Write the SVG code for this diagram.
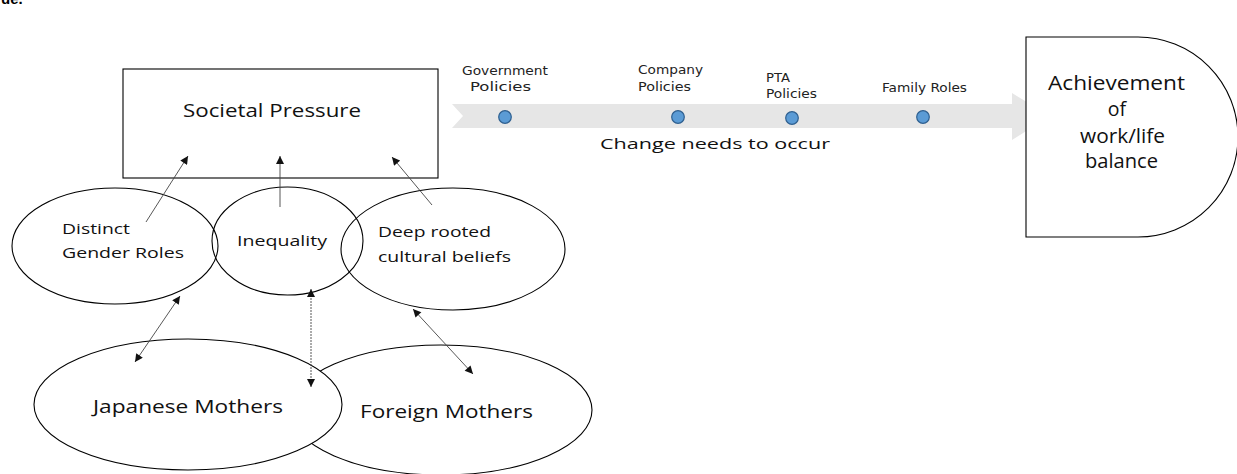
<svg xmlns="http://www.w3.org/2000/svg" width="1237" height="474" viewBox="0 0 1237 474">
<style>
.shape{fill:none;stroke:#000;stroke-width:1.1}
.wfill{fill:#fff;stroke:#000;stroke-width:1.1}
.t{font-family:"Open Sans","Liberation Sans",sans-serif;fill:#111}
.lab{font-family:"DejaVu Sans","Liberation Sans",sans-serif;font-size:12px;fill:#222}
.conn{stroke:#444;stroke-width:0.9;fill:none}
.dot{fill:#5b9bd5;stroke:#2e5f8f;stroke-width:1.2}
</style>
<defs>
<marker id="ah" viewBox="0 0 10 10" refX="10" refY="5" markerWidth="9" markerHeight="8" markerUnits="userSpaceOnUse" orient="auto-start-reverse">
<path d="M0,0 L10,5 L0,10 Z" fill="#111"/>
</marker>
</defs>
<rect width="1237" height="474" fill="#fff"/>
<text x="1" y="4" font-family="Liberation Sans, sans-serif" font-weight="bold" font-size="15" fill="#000">ue.</text>

<g id="timeline">
<polygon points="452,104 1012,104 1012,93 1050,116 1012,140 1012,128 452,128 463,116" fill="#e6e6e6"/>
<circle class="dot" cx="505" cy="117" r="6.3"/>
<circle class="dot" cx="678" cy="117" r="6.3"/>
<circle class="dot" cx="792" cy="118" r="6.3"/>
<circle class="dot" cx="923" cy="117" r="6.3"/>
<text class="lab" x="462" y="75" textLength="86" lengthAdjust="spacingAndGlyphs">Government</text>
<text class="lab" x="470" y="91" textLength="61" lengthAdjust="spacingAndGlyphs">Policies</text>
<text class="lab" x="638" y="74" textLength="65" lengthAdjust="spacingAndGlyphs">Company</text>
<text class="lab" x="638" y="91" textLength="53" lengthAdjust="spacingAndGlyphs">Policies</text>
<text class="lab" x="766" y="82" textLength="24" lengthAdjust="spacingAndGlyphs">PTA</text>
<text class="lab" x="766" y="98" textLength="51" lengthAdjust="spacingAndGlyphs">Policies</text>
<text class="lab" x="882" y="92" textLength="85" lengthAdjust="spacingAndGlyphs">Family Roles</text>
<text class="t" x="600" y="149" font-size="15" textLength="230" lengthAdjust="spacingAndGlyphs">Change needs to occur</text>
</g>

<g id="achievement">
<path class="wfill" d="M1026,37 H1138 A100,100 0 0 1 1138,237 H1026 Z"/>
<text class="t" x="1048" y="90" font-size="19.5" textLength="137" lengthAdjust="spacingAndGlyphs">Achievement</text>
<text class="t" x="1117" y="116" font-size="19.5" text-anchor="middle">of</text>
<text class="t" x="1080" y="143" font-size="19.5" textLength="85" lengthAdjust="spacingAndGlyphs">work/life</text>
<text class="t" x="1085" y="168" font-size="19.5" textLength="73" lengthAdjust="spacingAndGlyphs">balance</text>
</g>

<g id="societal-pressure">
<rect class="shape" x="123" y="69" width="315" height="109"/>
<text class="t" x="183" y="117" font-size="18.5" textLength="178" lengthAdjust="spacingAndGlyphs">Societal Pressure</text>
</g>

<g id="distinct-gender-roles">
<ellipse class="shape" cx="115" cy="246" rx="103" ry="58"/>
<text class="t" x="62" y="234" font-size="15" textLength="68" lengthAdjust="spacingAndGlyphs">Distinct</text>
<text class="t" x="62" y="258" font-size="15" textLength="122" lengthAdjust="spacingAndGlyphs">Gender Roles</text>
</g>

<g id="inequality">
<ellipse class="shape" cx="287.5" cy="241" rx="75.5" ry="54"/>
<text class="t" x="237" y="246" font-size="15" textLength="90" lengthAdjust="spacingAndGlyphs">Inequality</text>
</g>

<g id="deep-rooted">
<ellipse class="shape" cx="453" cy="249" rx="112" ry="61"/>
<text class="t" x="378" y="237" font-size="15" textLength="113" lengthAdjust="spacingAndGlyphs">Deep rooted</text>
<text class="t" x="378" y="262" font-size="15" textLength="133" lengthAdjust="spacingAndGlyphs">cultural beliefs</text>
</g>

<g id="foreign-mothers">
<ellipse class="wfill" cx="441" cy="410" rx="151" ry="65"/>
<text class="t" x="360" y="418" font-size="18" textLength="173" lengthAdjust="spacingAndGlyphs">Foreign Mothers</text>
</g>

<g id="japanese-mothers">
<ellipse class="wfill" cx="188" cy="404.5" rx="154" ry="65.5"/>
<text class="t" x="93" y="413" font-size="18" textLength="190" lengthAdjust="spacingAndGlyphs">Japanese Mothers</text>
</g>

<g id="connectors">
<line class="conn" x1="146" y1="222" x2="188" y2="156" marker-end="url(#ah)"/>
<line class="conn" x1="280" y1="207" x2="280" y2="156" marker-end="url(#ah)"/>
<line class="conn" x1="432" y1="205" x2="392" y2="157" marker-end="url(#ah)"/>
<line class="conn" x1="180" y1="296" x2="135" y2="362" marker-start="url(#ah)" marker-end="url(#ah)"/>
<line class="conn" x1="311" y1="289" x2="311" y2="387" stroke-dasharray="2,1" marker-start="url(#ah)" marker-end="url(#ah)"/>
<line class="conn" x1="413" y1="309" x2="473" y2="374" marker-start="url(#ah)" marker-end="url(#ah)"/>
</g>
</svg>
